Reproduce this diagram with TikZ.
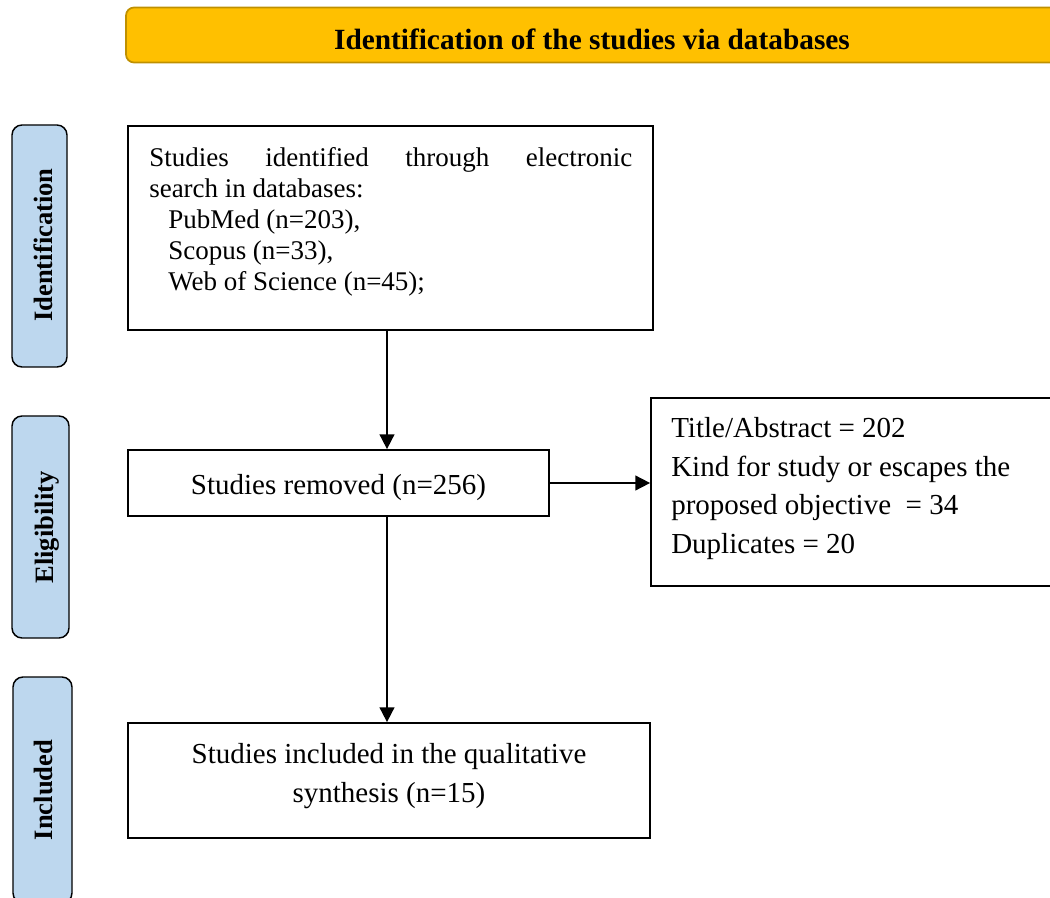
\documentclass[tikz,border=0pt]{standalone}
\usepackage{fontspec}
\setmainfont{Liberation Serif}
\usetikzlibrary{arrows.meta}
\definecolor{bannerfill}{HTML}{FFC000}
\definecolor{bannerdraw}{HTML}{BF9000}
\definecolor{sidefill}{HTML}{BDD7EE}
\begin{document}
\begin{tikzpicture}[x=0.75pt,y=-0.75pt,
  box/.style={draw, line width=1.3pt, inner sep=0pt, fill=white},
  sidebox/.style={draw, line width=1.1pt, fill=sidefill, rounded corners=7.5pt, inner sep=0pt},
  sidetext/.style={rotate=90, anchor=base, inner sep=0pt, font=\bfseries\fontsize{19.9pt}{23pt}\selectfont},
  txt/.style={inner sep=0pt},
  arr/.style={-{Triangle[length=11pt,width=11pt]}, line width=1.3pt},
  fA/.style={font=\fontsize{20.25pt}{23.25pt}\selectfont},
  fB/.style={font=\fontsize{21.75pt}{29pt}\selectfont}
]
\useasboundingbox (0,0) rectangle (1050,898);
\clip (0,0) rectangle (1050,898);

% banner
\node[draw=bannerdraw, line width=1.3pt, fill=bannerfill, rounded corners=6pt,
      minimum width=699pt, minimum height=41.25pt, inner sep=0pt] (ban) at (592,35) {};
\node[txt, anchor=base, font=\bfseries\fontsize{22pt}{26pt}\selectfont] (bant) at (592,50)
  {Identification of the studies via databases};

% side labels
\node[sidebox, minimum width=41.25pt, minimum height=181.5pt] (s1) at (39.5,246) {};
\node[sidetext] (s1t) at (52,245) {Identification};
\node[sidebox, minimum width=42.75pt, minimum height=166.5pt] (s2) at (40.5,527) {};
\node[sidetext] (s2t) at (53,527.5) {Eligibility};
\node[sidebox, minimum width=44.25pt, minimum height=169.5pt] (s3) at (42.5,790) {};
\node[sidetext] (s3t) at (52,790) {Included};

% boxes
\node[box, minimum width=393.75pt, minimum height=153pt] (b1) at (390.5,228) {};
\node[txt, fA, anchor=north west, align=left] (b1t) at (149,147)
  {\makebox[362.25pt][s]{Studies identified through electronic}\\
   search in databases:\\
   \hspace*{14.25pt}PubMed (n=203),\\
   \hspace*{14.25pt}Scopus (n=33),\\
   \hspace*{14.25pt}Web of Science (n=45);};

\node[box, minimum width=315.75pt, minimum height=49.5pt] (b2) at (338.5,483) {};
\node[txt, fB, anchor=base] (b2t) at (338.5,494) {Studies removed (n=256)};

\node[box, minimum width=315pt, minimum height=141pt] (b3) at (861,492) {};
\node[txt, fB, anchor=north west, align=left] (b3t) at (671,417)
  {Title/Abstract = 202\\
   Kind for study or escapes the\\
   proposed objective\ \ = 34\\
   Duplicates = 20};

\node[box, minimum width=391.5pt, minimum height=86.25pt] (b4) at (389,780.5) {};
\node[txt, fB, anchor=north, align=center] (b4t) at (389,743)
  {Studies included in the qualitative\\ synthesis (n=15)};

% connectors
\coordinate (ax) at (387,0);
\draw[arr] (ax |- b1.south) -- (ax |- b2.north);
\draw[arr] (ax |- b2.south) -- (ax |- b4.north);
\draw[arr] (b2.east) -- (b2.east -| b3.west);
\end{tikzpicture}
\end{document}
